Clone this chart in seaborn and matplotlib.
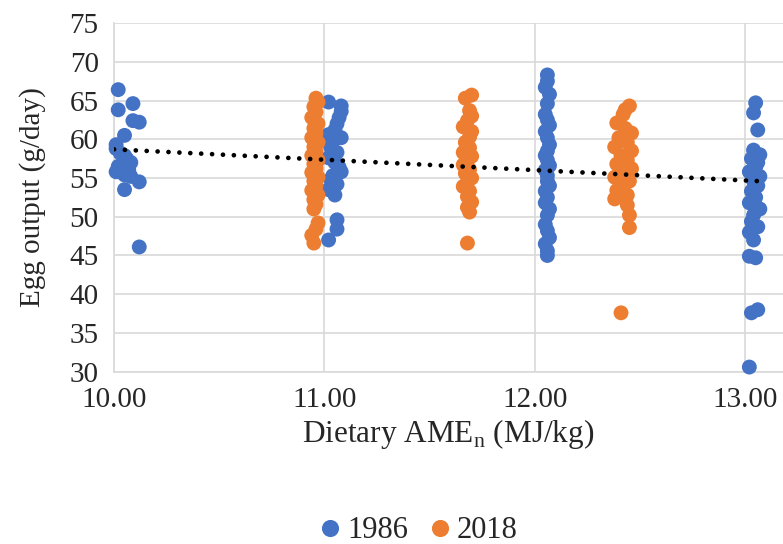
import numpy as np
import pandas as pd
import matplotlib
matplotlib.use("Agg")
import matplotlib.pyplot as plt
import seaborn as sns

# 1986 series
x_1986 = [10.02, 10.02, 10.09, 10.09, 10.12, 10.05, 10.01, 10.01, 10.03, 10.05, 10.06,
          10.08, 10.02, 10.04, 10.07, 10.01, 10.05, 10.08, 10.12, 10.05, 10.12,
          11.02, 11.08, 11.08, 11.07, 11.06, 11.05, 11.02, 11.08, 11.04, 11.03, 11.06,
          11.02, 11.05, 11.07, 11.08, 11.04, 11.03, 11.06, 11.02, 11.05, 11.06, 11.06, 11.02,
          12.06, 12.06, 12.05, 12.07, 12.06, 12.05, 12.06, 12.07, 12.05, 12.06, 12.07,
          12.06, 12.05, 12.06, 12.07, 12.05, 12.06, 12.06, 12.07, 12.05, 12.06, 12.05,
          12.07, 12.06, 12.05, 12.06, 12.07, 12.05, 12.06, 12.06,
          13.05, 13.04, 13.06, 13.04, 13.07, 13.03, 13.06, 13.05, 13.02, 13.07, 13.04,
          13.06, 13.03, 13.05, 13.02, 13.07, 13.04, 13.03, 13.06, 13.02, 13.04, 13.02,
          13.05, 13.06, 13.03, 13.02]
y_1986 = [66.4, 63.8, 64.6, 62.4, 62.2, 60.5, 59.3, 58.8, 58.2, 57.9, 57.5,
          57.0, 56.5, 56.3, 56.0, 55.8, 55.4, 55.2, 54.5, 53.5, 46.1,
          64.8, 64.3, 63.6, 62.8, 62.0, 61.2, 60.6, 60.2, 59.7, 59.0, 58.3,
          57.6, 57.0, 56.4, 55.8, 55.3, 54.8, 54.2, 53.5, 52.8, 49.6, 48.4, 47.0,
          68.3, 67.5, 66.7, 65.8, 64.6, 63.2, 62.5, 61.8, 61.0, 60.2, 59.3,
          58.5, 57.9, 57.3, 56.6, 56.0, 55.3, 54.6, 54.0, 53.3, 52.5, 51.8,
          51.0, 50.2, 49.0, 48.2, 47.3, 46.5, 45.6, 45.0,
          64.7, 63.4, 61.2, 58.6, 58.0, 57.5, 57.0, 56.4, 55.8, 55.2, 54.6,
          54.0, 53.3, 52.5, 51.8, 51.0, 50.2, 49.4, 48.7, 48.0, 47.0, 44.9,
          44.7, 38.0, 37.6, 30.6]

# 2018 series
x_2018 = [10.96, 10.97, 10.95, 10.96, 10.94, 10.97, 10.95, 10.96, 10.94, 10.97, 10.95,
          10.96, 10.94, 10.97, 10.95, 10.96, 10.94, 10.97, 10.95, 10.96, 10.94, 10.97,
          10.95, 10.96, 10.95, 10.97, 10.96, 10.94, 10.95,
          11.70, 11.67, 11.69, 11.70, 11.68, 11.66, 11.70, 11.69, 11.67, 11.69, 11.66,
          11.70, 11.68, 11.66, 11.69, 11.67, 11.70, 11.68, 11.66, 11.69, 11.68, 11.70,
          11.68, 11.69, 11.68,
          12.45, 12.43, 12.42, 12.39, 12.43, 12.46, 12.40, 12.44, 12.38, 12.46, 12.41,
          12.44, 12.39, 12.46, 12.42, 12.38, 12.45, 12.41, 12.39, 12.44, 12.38, 12.44,
          12.45, 12.45, 12.41]
y_2018 = [65.3, 64.8, 64.2, 63.5, 62.8, 62.0, 61.4, 60.8, 60.2, 59.6, 59.0,
          58.4, 57.9, 57.3, 56.8, 56.2, 55.7, 55.1, 54.6, 54.0, 53.4, 52.8,
          52.2, 51.6, 51.0, 49.2, 48.4, 47.6, 46.6,
          65.7, 65.3, 63.7, 63.0, 62.4, 61.6, 61.0, 60.3, 59.6, 58.9, 58.3,
          57.8, 57.2, 56.7, 56.1, 55.6, 55.0, 54.5, 53.9, 53.3, 52.6, 51.9,
          51.2, 50.6, 46.6,
          64.3, 63.8, 63.2, 62.1, 61.4, 60.8, 60.2, 59.6, 59.0, 58.5, 57.9,
          57.3, 56.8, 56.2, 55.7, 55.1, 54.6, 54.0, 53.4, 52.8, 52.3, 51.5,
          50.2, 48.6, 37.6]

# linear trendline (slope, intercept, x range)
trend_slope = -1.34
trend_intercept = 72.1
trend_range = [10.0, 13.07]

years = ["1986", "2018"]
colors = ["#4472C4", "#ED7D31"]

df = pd.concat([
    pd.DataFrame({"AME": x_1986, "Egg": y_1986, "Year": years[0]}),
    pd.DataFrame({"AME": x_2018, "Egg": y_2018, "Year": years[1]}),
], ignore_index=True)

sns.set_style("white")
plt.rcParams["font.family"] = ["Liberation Serif", "DejaVu Serif"]
plt.rcParams["mathtext.fontset"] = "custom"
plt.rcParams["mathtext.rm"] = "Liberation Serif"

fig = plt.figure(figsize=(7.83, 5.44), dpi=100)
ax = fig.add_axes([0.1456, 0.3167, 0.8544, 0.641])

sns.scatterplot(data=df, x="AME", y="Egg", hue="Year", palette=colors,
                s=115, linewidth=0, alpha=1, ax=ax, zorder=3, clip_on=False)

xt = np.array(trend_range)
ax.plot(xt, trend_intercept + trend_slope * xt, color="black", lw=3.4,
        linestyle=(0, (0.01, 2.3)), dash_capstyle="round", zorder=4)

ax.set_xlim(10, 13.18)
ax.set_ylim(30, 75)
ax.set_xticks([10, 11, 12, 13])
ax.set_xticklabels(["10.00", "11.00", "12.00", "13.00"])
ax.set_yticks(range(30, 80, 5))
ax.tick_params(axis="both", labelsize=21, length=0)
ax.tick_params(axis="x", pad=11)
ax.tick_params(axis="y", pad=11)
ax.grid(True, color="#d9d9d9", lw=1.2)
ax.set_axisbelow(True)
for side in ["top", "right"]:
    ax.spines[side].set_visible(False)
for side in ["left", "bottom"]:
    ax.spines[side].set_color("#d9d9d9")
    ax.spines[side].set_linewidth(1.2)

ax.set_xlabel("Dietary AME$_\\mathrm{n}$ (MJ/kg)", fontsize=22.5, labelpad=3)
ax.set_ylabel("Egg output (g/day)", fontsize=21, labelpad=17)

handles, labels = ax.get_legend_handles_labels()
ax.legend(handles, labels, loc="center", bbox_to_anchor=(0.522, 0.024),
          bbox_transform=fig.transFigure, ncol=2, frameon=False, fontsize=22,
          handletextpad=-0.45, columnspacing=0.05, markerscale=1.15)

fig.savefig("out.png", dpi=100)
